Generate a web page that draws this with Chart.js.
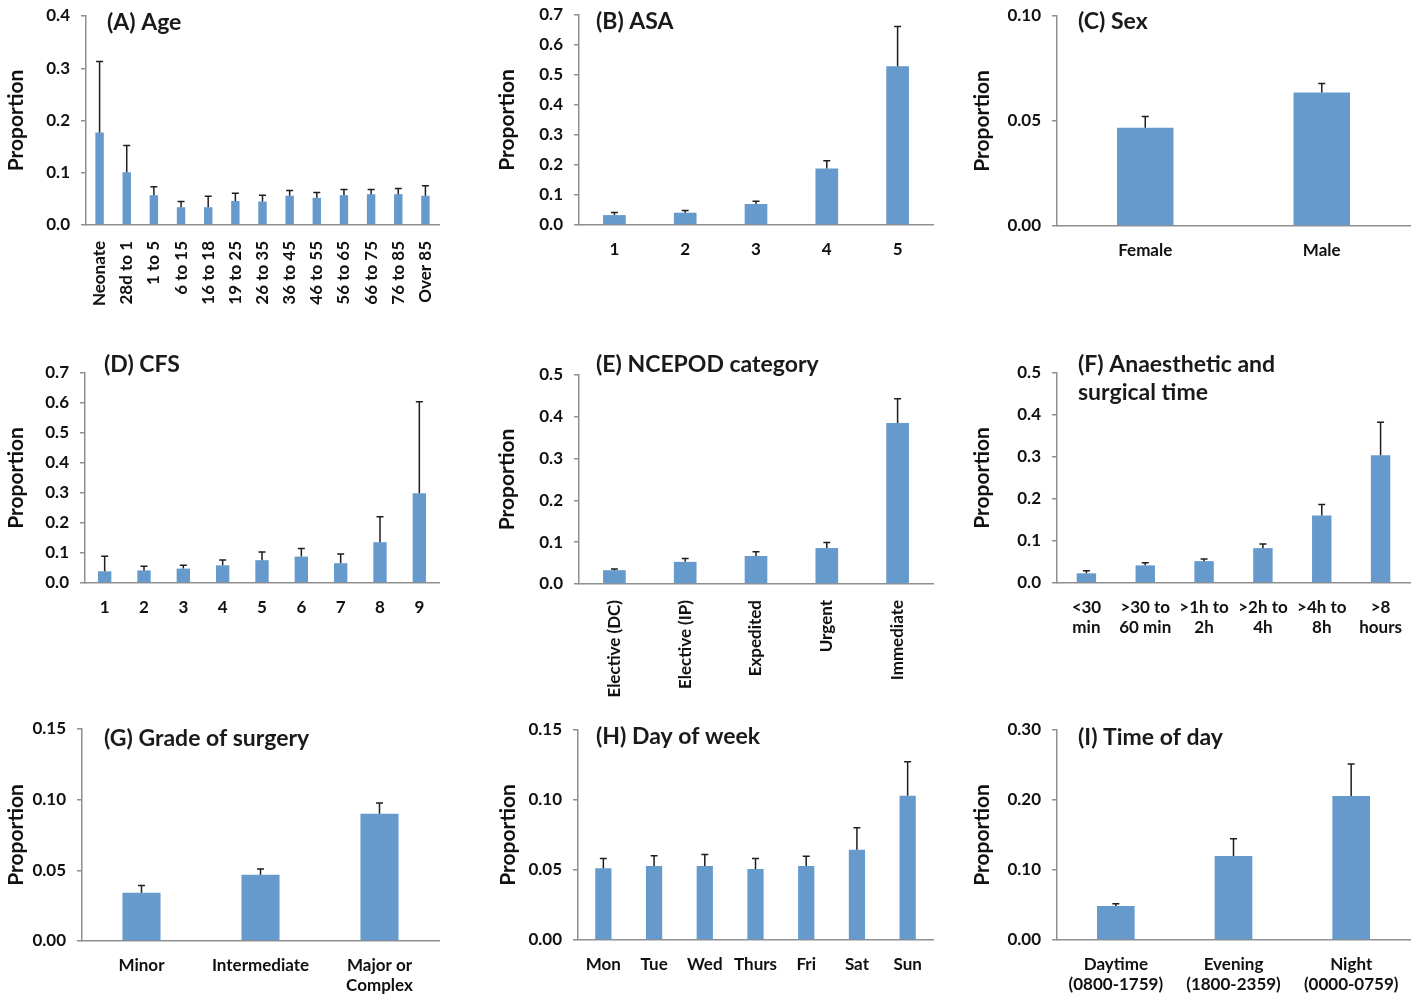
<!DOCTYPE html>
<html>
<head>
<meta charset="utf-8">
<script src="https://cdn.jsdelivr.net/npm/chart.js@4.4.0/dist/chart.umd.min.js"></script>
<style>
  body { margin: 0; background: #fff; width: 1422px; height: 996px; position: relative; overflow: hidden; }
  canvas { position: absolute; }
</style>
</head>
<body>
<canvas id="chartA"></canvas>
<canvas id="chartB"></canvas>
<canvas id="chartC"></canvas>
<canvas id="chartD"></canvas>
<canvas id="chartE"></canvas>
<canvas id="chartF"></canvas>
<canvas id="chartG"></canvas>
<canvas id="chartH"></canvas>
<canvas id="chartI"></canvas>
<script>
// values: bar = proportion, upper = top of the error bar
const ageLabels = ['Neonate', '28d to 1', '1 to 5', '6 to 15', '16 to 18', '19 to 25', '26 to 35', '36 to 45', '46 to 55', '56 to 65', '66 to 75', '76 to 85', 'Over 85'];
const ageValues = [0.177, 0.101, 0.057, 0.034, 0.034, 0.046, 0.045, 0.056, 0.052, 0.057, 0.059, 0.059, 0.056];
const ageUpper = [0.313, 0.152, 0.073, 0.045, 0.055, 0.061, 0.057, 0.066, 0.062, 0.068, 0.068, 0.070, 0.075];

const asaLabels = ['1', '2', '3', '4', '5'];
const asaValues = [0.033, 0.041, 0.070, 0.188, 0.529];
const asaUpper = [0.042, 0.048, 0.079, 0.214, 0.662];

const sexLabels = ['Female', 'Male'];
const sexValues = [0.0468, 0.0636];
const sexUpper = [0.0522, 0.0679];

const cfsLabels = ['1', '2', '3', '4', '5', '6', '7', '8', '9'];
const cfsValues = [0.039, 0.042, 0.048, 0.059, 0.076, 0.088, 0.066, 0.136, 0.299];
const cfsUpper = [0.089, 0.056, 0.059, 0.077, 0.103, 0.115, 0.097, 0.221, 0.604];

const ncepodLabels = ['Elective (DC)', 'Elective (IP)', 'Expedited', 'Urgent', 'Immediate'];
const ncepodValues = [0.033, 0.053, 0.067, 0.086, 0.385];
const ncepodUpper = [0.036, 0.061, 0.077, 0.099, 0.443];

const durationLabels = [['<30', 'min'], ['>30 to', '60 min'], ['>1h to', '2h'], ['>2h to', '4h'], ['>4h to', '8h'], ['>8', 'hours']];
const durationValues = [0.023, 0.042, 0.052, 0.083, 0.161, 0.304];
const durationUpper = [0.029, 0.048, 0.057, 0.093, 0.187, 0.383];

const gradeLabels = ['Minor', 'Intermediate', ['Major or', 'Complex']];
const gradeValues = [0.0342, 0.0469, 0.0901];
const gradeUpper = [0.0392, 0.0509, 0.0976];

const dayLabels = ['Mon', 'Tue', 'Wed', 'Thurs', 'Fri', 'Sat', 'Sun'];
const dayValues = [0.0512, 0.0529, 0.0529, 0.0507, 0.0529, 0.0645, 0.1031];
const dayUpper = [0.0583, 0.0602, 0.0610, 0.0583, 0.0598, 0.0802, 0.1274];

const timeLabels = [['Daytime', '(0800-1759)'], ['Evening', '(1800-2359)'], ['Night', '(0000-0759)']];
const timeValues = [0.0486, 0.1200, 0.2057];
const timeUpper = [0.0519, 0.1448, 0.2514];

const FONT = 'Lato';
const AXIS_GREY = '#8f8f8f';
const BAR_BLUE = '#6699cc';
const TICK_SIZE = 17;
const YTITLE_SIZE = 21;

// draws the upper whisker of each bar
const errorBars = {
  id: 'errorBars',
  afterDatasetsDraw(chart) {
    const ds = chart.data.datasets[0];
    const meta = chart.getDatasetMeta(0);
    const y = chart.scales.y;
    const ctx = chart.ctx;
    ctx.save();
    ctx.strokeStyle = '#1e1e1e';
    ctx.lineWidth = 1.5;
    meta.data.forEach((bar, i) => {
      const top = y.getPixelForValue(ds.upper[i]);
      ctx.beginPath();
      ctx.moveTo(bar.x, bar.y);
      ctx.lineTo(bar.x, top);
      ctx.moveTo(bar.x - 3.5, top);
      ctx.lineTo(bar.x + 3.5, top);
      ctx.stroke();
    });
    ctx.restore();
  }
};

function makePanel(p) {
  const canvas = document.getElementById(p.id);
  canvas.width = p.box[2];
  canvas.height = p.box[3];
  canvas.style.left = p.box[0] + 'px';
  canvas.style.top = p.box[1] + 'px';

  const [cx, cy, cw, ch] = p.box;
  const [L, T, R, B] = p.area;
  const padLeft = p.yTitleX - cx - YTITLE_SIZE / 2;
  const yWidth = L - cx - padLeft;
  const xHeight = cy + ch - B;

  const panelTitle = {
    id: 'panelTitle',
    afterDraw(chart) {
      const ctx = chart.ctx;
      ctx.save();
      ctx.fillStyle = '#1a1a1a';
      ctx.font = 'bold 23px ' + FONT;
      ctx.textBaseline = 'alphabetic';
      p.title.forEach((line, i) => ctx.fillText(line, p.titlePos[0] - cx, p.titlePos[1] - cy + i * 28));
      ctx.restore();
    }
  };

  return new Chart(canvas, {
    type: 'bar',
    data: {
      labels: p.labels,
      datasets: [{
        data: p.values,
        upper: p.upper,
        backgroundColor: BAR_BLUE,
        borderWidth: 0,
        categoryPercentage: 1,
        barPercentage: p.barPct || 0.32
      }]
    },
    options: {
      responsive: false,
      animation: false,
      layout: { padding: { left: padLeft, top: T - cy, right: cx + cw - R, bottom: 0 } },
      plugins: { legend: { display: false }, tooltip: { enabled: false } },
      scales: {
        x: {
          afterFit: s => { s.height = xHeight; },
          grid: { display: false, drawTicks: false },
          border: { display: true, color: AXIS_GREY, width: 1.5 },
          ticks: {
            autoSkip: false,
            minRotation: p.rotate ? 90 : 0,
            maxRotation: p.rotate ? 90 : 0,
            padding: p.rotate ? 16 : 14,
            color: '#111',
            font: { family: FONT, size: TICK_SIZE, weight: 'bold', lineHeight: 1.2 }
          }
        },
        y: {
          afterFit: s => { s.width = yWidth; },
          min: 0,
          max: p.yMax,
          grid: { display: true, drawOnChartArea: false, drawTicks: true, tickLength: 5, color: AXIS_GREY, lineWidth: 1.5 },
          border: { display: true, color: AXIS_GREY, width: 1.5 },
          ticks: {
            stepSize: p.yStep,
            padding: 11,
            color: '#111',
            font: { family: FONT, size: TICK_SIZE, weight: 'bold' },
            callback: v => v.toFixed(p.decimals)
          },
          title: {
            display: true,
            text: 'Proportion',
            color: '#111',
            padding: 0,
            font: { family: FONT, size: YTITLE_SIZE, weight: 'bold', lineHeight: 1 }
          }
        }
      }
    },
    plugins: [errorBars, panelTitle]
  });
}

// top row canvases start above the page so the y labels have room
makePanel({ id: 'chartA', box: [0, -12, 470, 347], area: [86, 16, 439, 225], yTitleX: 16,
  labels: ageLabels, values: ageValues, upper: ageUpper, yMax: 0.4, yStep: 0.1, decimals: 1,
  title: ['(A) Age'], titlePos: [107, 30], rotate: true, barPct: 0.31 });
makePanel({ id: 'chartB', box: [470, -12, 480, 347], area: [579, 15, 933, 225], yTitleX: 507,
  labels: asaLabels, values: asaValues, upper: asaUpper, yMax: 0.7, yStep: 0.1, decimals: 1,
  title: ['(B) ASA'], titlePos: [596, 29] });
makePanel({ id: 'chartC', box: [950, -12, 472, 347], area: [1057, 16, 1410, 226], yTitleX: 982,
  labels: sexLabels, values: sexValues, upper: sexUpper, yMax: 0.1, yStep: 0.05, decimals: 2,
  title: ['(C) Sex'], titlePos: [1078, 29] });

makePanel({ id: 'chartD', box: [0, 335, 470, 370], area: [85, 373, 439, 583], yTitleX: 16,
  labels: cfsLabels, values: cfsValues, upper: cfsUpper, yMax: 0.7, yStep: 0.1, decimals: 1,
  title: ['(D) CFS'], titlePos: [104, 372], barPct: 0.34 });
makePanel({ id: 'chartE', box: [470, 335, 480, 370], area: [579, 375, 933, 584], yTitleX: 507,
  labels: ncepodLabels, values: ncepodValues, upper: ncepodUpper, yMax: 0.5, yStep: 0.1, decimals: 1,
  title: ['(E) NCEPOD category'], titlePos: [596, 372], rotate: true });
makePanel({ id: 'chartF', box: [950, 335, 472, 370], area: [1057, 373, 1410, 583], yTitleX: 982,
  labels: durationLabels, values: durationValues, upper: durationUpper, yMax: 0.5, yStep: 0.1, decimals: 1,
  title: ['(F) Anaesthetic and', 'surgical time'], titlePos: [1078, 372], barPct: 0.33 });

makePanel({ id: 'chartG', box: [0, 705, 470, 291], area: [82, 729, 439, 941], yTitleX: 16,
  labels: gradeLabels, values: gradeValues, upper: gradeUpper, yMax: 0.15, yStep: 0.05, decimals: 2,
  title: ['(G) Grade of surgery'], titlePos: [104, 746] });
makePanel({ id: 'chartH', box: [470, 705, 480, 291], area: [578, 730, 933, 940], yTitleX: 508,
  labels: dayLabels, values: dayValues, upper: dayUpper, yMax: 0.15, yStep: 0.05, decimals: 2,
  title: ['(H) Day of week'], titlePos: [596, 744] });
makePanel({ id: 'chartI', box: [950, 705, 472, 291], area: [1057, 730, 1410, 940], yTitleX: 982,
  labels: timeLabels, values: timeValues, upper: timeUpper, yMax: 0.3, yStep: 0.1, decimals: 2,
  title: ['(I) Time of day'], titlePos: [1078, 745] });
</script>
</body>
</html>
